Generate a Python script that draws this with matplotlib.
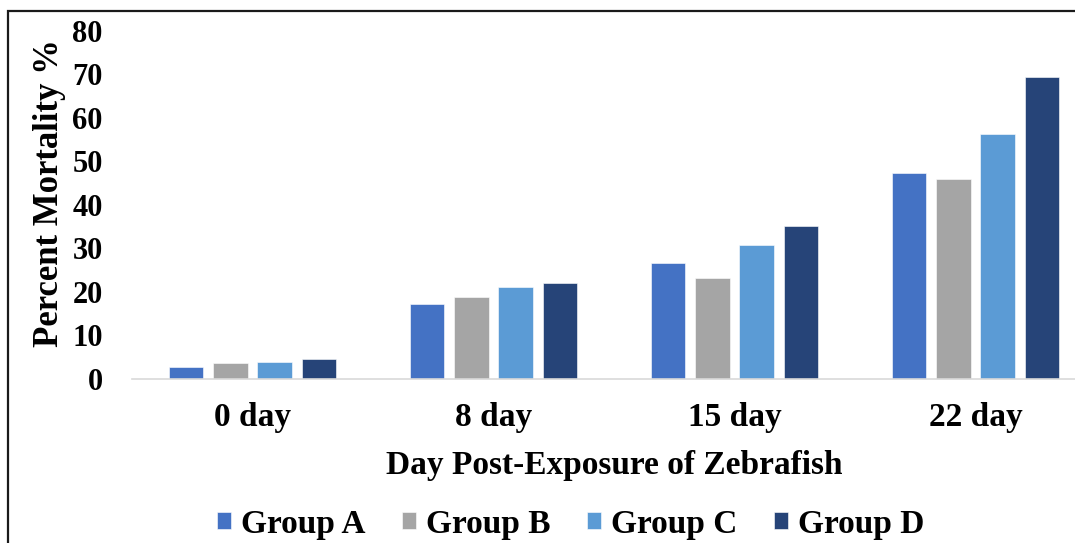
import matplotlib.pyplot as plt
import matplotlib.patches as patches
import numpy as np

days = ["0 day", "8 day", "15 day", "22 day"]
groups = ["Group A", "Group B", "Group C", "Group D"]
groupA = [2.6, 17.1, 26.7, 47.2]
groupB = [3.5, 18.7, 23.1, 46.0]
groupC = [3.9, 21.0, 30.8, 56.4]
groupD = [4.5, 22.0, 35.2, 69.5]
colors = ["#4472C4", "#A5A5A5", "#5B9BD5", "#264478"]


def main():
    plt.rcParams['font.family'] = ['Liberation Serif', 'DejaVu Serif']
    plt.rcParams['font.weight'] = 'bold'

    fig = plt.figure(figsize=(10.75, 5.43), dpi=100)
    ax = fig.add_axes([132 / 1075, 164.5 / 543, 964 / 1075, 347.5 / 543])

    x = np.arange(len(days))
    pitch = 0.184
    width = 0.144
    series = [groupA, groupB, groupC, groupD]
    for i, values in enumerate(series):
        ax.bar(x + (i - 1.5) * pitch, values, width, color=colors[i],
               label=groups[i], edgecolor='white', linewidth=0.4, zorder=2)

    ax.set_xlim(-0.5, 3.5)
    ax.set_ylim(0, 80)
    ax.set_yticks(range(0, 81, 10))
    ax.set_xticks(x)
    ax.set_xticklabels(days)

    for side in ['top', 'right', 'left']:
        ax.spines[side].set_visible(False)
    ax.spines['bottom'].set_color('#D9D9D9')
    ax.spines['bottom'].set_linewidth(1.2)

    ax.tick_params(axis='y', length=0, pad=21, labelsize=22)
    ax.tick_params(axis='x', length=0, pad=17, labelsize=24)

    ax.set_xlabel("Day Post-Exposure of Zebrafish", fontsize=24, fontweight='bold', labelpad=12)
    ax.set_ylabel("Percent Mortality %", fontsize=25, fontweight='bold')
    ax.yaxis.set_label_coords(-66 / 964, 0.534)

    fig.legend(loc='center', bbox_to_anchor=(571 / 1075, 19 / 543), ncol=4,
               frameon=False, fontsize=24, handlelength=0.42, handleheight=0.42,
               handletextpad=0.3, columnspacing=1.1)

    # outer frame, cut off on the right and bottom like the original
    frame = patches.Rectangle((8 / 1075, -0.2), 1.2, 532 / 543 + 0.2,
                              transform=fig.transFigure, fill=False,
                              edgecolor='#1a1a1a', linewidth=1.6)
    fig.patches.append(frame)

    fig.savefig("out.png", dpi=100)


if __name__ == "__main__":
    main()
